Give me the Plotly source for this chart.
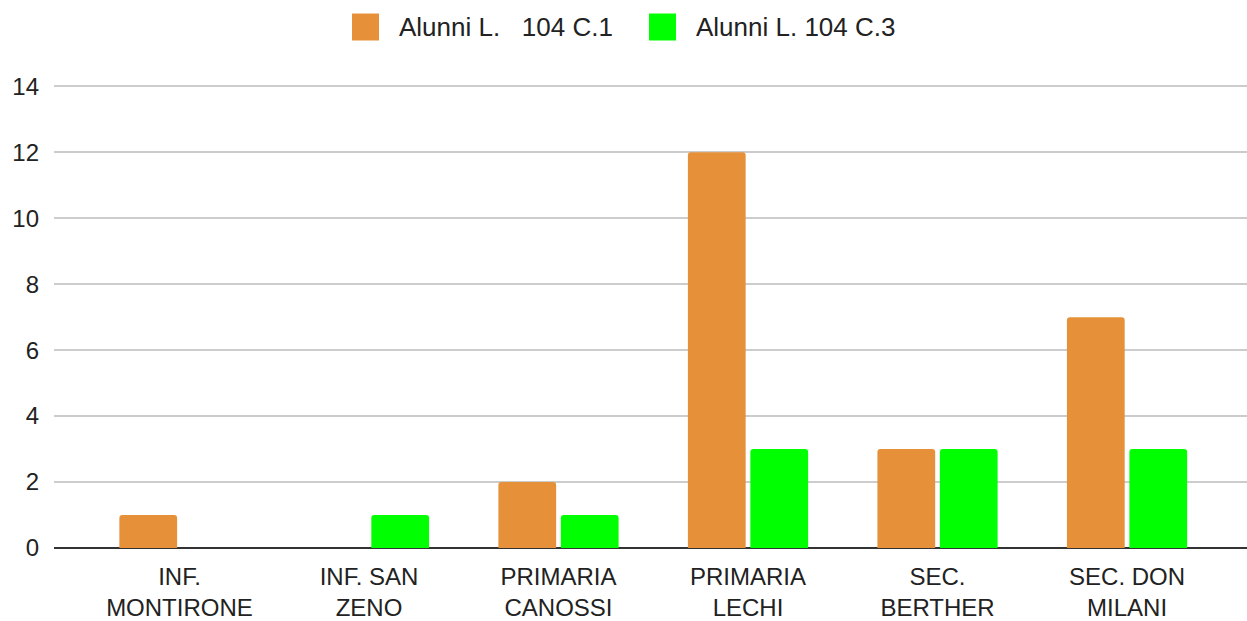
import plotly.graph_objects as go

categories = ["INF.<br>MONTIRONE", "INF. SAN<br>ZENO", "PRIMARIA<br>CANOSSI",
              "PRIMARIA<br>LECHI", "SEC.<br>BERTHER", "SEC. DON<br>MILANI"]
series1_name = "Alunni L.\u00a0\u00a0 104 C.1"
series2_name = "Alunni L. 104 C.3"
series1 = [1, 0, 2, 12, 3, 7]
series2 = [0, 1, 1, 3, 3, 3]
y_ticks = [0, 2, 4, 6, 8, 10, 12, 14]

color1 = "#E6913A"
color2 = "#00FF00"
text_color = "#222222"
font_family = "Liberation Sans, Arial, sans-serif"

x_idx = list(range(len(categories)))

fig = go.Figure()
fig.add_trace(go.Bar(x=x_idx, y=series1, name=series1_name,
                     marker=dict(color=color1, line=dict(width=0)), showlegend=False))
fig.add_trace(go.Bar(x=x_idx, y=series2, name=series2_name,
                     marker=dict(color=color2, line=dict(width=0)), showlegend=False))

W, H = 1247, 621
ml, mr, mt, mb = 54, 0, 83, 73
pw, ph = W - ml - mr, H - mt - mb

def px_x(px):
    return (px - ml) / pw

def px_y(py):
    return (H - mb - py) / ph

# manual legend
legend_items = [(series1_name, color1, 352, 397), (series2_name, color2, 649, 694)]
for name, col, sx, tx in legend_items:
    fig.add_shape(type="rect", xref="paper", yref="paper",
                  x0=px_x(sx), x1=px_x(sx + 27), y0=px_y(40.5), y1=px_y(13.5),
                  fillcolor=col, line=dict(width=0))
    fig.add_annotation(xref="paper", yref="paper", x=px_x(tx), y=px_y(27),
                       xanchor="left", yanchor="middle", showarrow=False,
                       text=name, font=dict(size=26, color=text_color, family=font_family))

fig.update_layout(
    width=W, height=H,
    margin=dict(l=ml, r=mr, t=mt, b=mb),
    paper_bgcolor="white", plot_bgcolor="white",
    barmode="group", bargap=0.341, bargroupgap=0.075,
    barcornerradius=3,
    font=dict(family=font_family, size=24, color=text_color),
    showlegend=False,
)
fig.update_xaxes(
    tickmode="array", tickvals=x_idx, ticktext=categories,
    range=[-0.662, 5.633], showgrid=False, showline=False, ticks="",
    tickfont=dict(size=24, color=text_color), ticklabelstandoff=12,
)
fig.update_yaxes(
    range=[0, 14.1], tickvals=y_ticks, showgrid=True, gridcolor="#cccccc", gridwidth=1.6,
    zeroline=True, zerolinecolor="#333333", zerolinewidth=2, ticks="",
    tickfont=dict(size=24, color=text_color), ticklabelstandoff=14,
)

fig.write_html(
    "out.html",
    config={"displayModeBar": False},
    post_script="document.body.style.margin='0';document.body.style.overflow='hidden';",
)
